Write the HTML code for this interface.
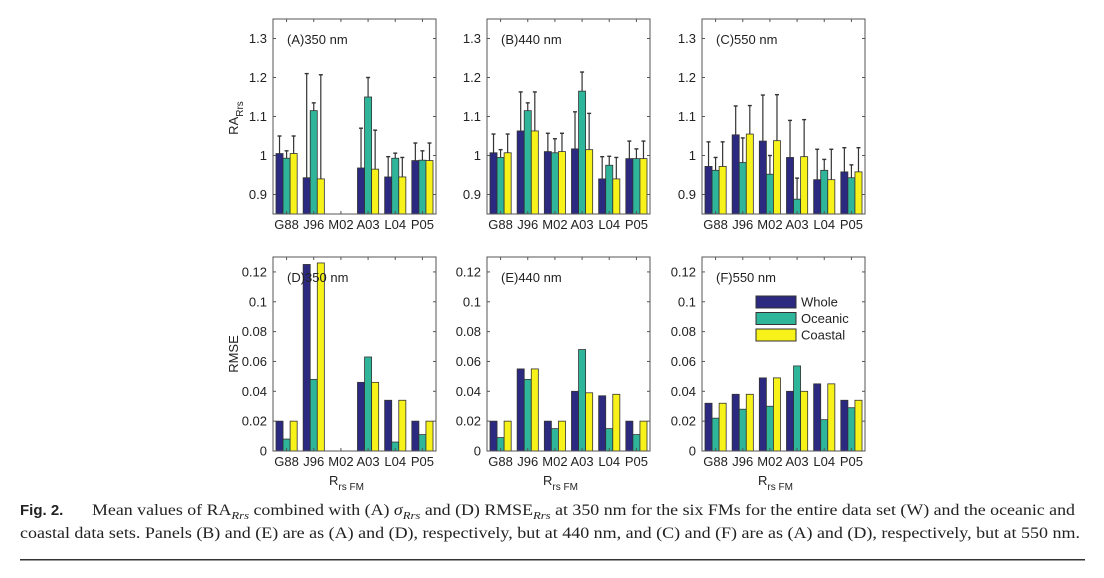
<!DOCTYPE html>
<html><head><meta charset="utf-8"><style>
html,body{margin:0;padding:0;background:#fff;width:1104px;height:578px;overflow:hidden}
svg{display:block}
.t{font-family:"Liberation Sans",Arial,sans-serif;font-size:13px;fill:#222}
.cap{font-family:"Liberation Serif",serif;font-size:15.5px;fill:#222}
</style></head><body>
<svg id="fig" width="1104" height="578" viewBox="0 0 1104 578" xmlns="http://www.w3.org/2000/svg">
<g id="plots"></g>
<g>
<text x="20" y="515" style="font-family:'Liberation Sans',sans-serif;font-weight:bold;font-size:15px;fill:#222">Fig. 2.</text>
<text class="cap" x="92" y="515" textLength="983" lengthAdjust="spacingAndGlyphs">Mean values of RA<tspan font-style="italic" font-size="11" dy="4">Rrs</tspan><tspan dy="-4"> combined with (A) </tspan><tspan font-style="italic">σ</tspan><tspan font-style="italic" font-size="11" dy="4">Rrs</tspan><tspan dy="-4"> and (D) RMSE</tspan><tspan font-style="italic" font-size="11" dy="4">Rrs</tspan><tspan dy="-4"> at 350 nm for the six FMs for the entire data set (W) and the oceanic and</tspan></text>
<text class="cap" x="20" y="538" textLength="1060" lengthAdjust="spacingAndGlyphs">coastal data sets. Panels (B) and (E) are as (A) and (D), respectively, but at 440 nm, and (C) and (F) are as (A) and (D), respectively, but at 550 nm.</text>
<rect x="20" y="559" width="1065" height="1.5" fill="#333"/>
</g>
</svg>
<script>
const categories = ["G88","J96","M02","A03","L04","P05"];
const seriesNames = ["Whole","Oceanic","Coastal"];
// RA means (top row)
const raA_W = [1.005,0.943,null,0.968,0.945,0.987];
const raA_O = [0.993,1.115,null,1.150,0.993,0.988];
const raA_C = [1.005,0.940,null,0.965,0.945,0.987];
const sdA_W = [0.045,0.267,null,0.102,0.052,0.045];
const sdA_O = [0.019,0.020,null,0.050,0.013,0.024];
const sdA_C = [0.045,0.267,null,0.100,0.050,0.045];
const raB_W = [1.007,1.063,1.010,1.017,0.940,0.992];
const raB_O = [0.995,1.115,1.007,1.165,0.975,0.992];
const raB_C = [1.007,1.063,1.010,1.015,0.940,0.992];
const sdB_W = [0.048,0.100,0.047,0.095,0.057,0.045];
const sdB_O = [0.020,0.020,0.036,0.049,0.023,0.025];
const sdB_C = [0.048,0.100,0.047,0.093,0.055,0.045];
const raC_W = [0.972,1.053,1.037,0.995,0.938,0.958];
const raC_O = [0.962,0.982,0.952,0.888,0.962,0.943];
const raC_C = [0.972,1.055,1.038,0.997,0.938,0.958];
const sdC_W = [0.063,0.074,0.118,0.095,0.078,0.062];
const sdC_O = [0.033,0.063,0.048,0.054,0.028,0.033];
const sdC_C = [0.063,0.073,0.118,0.095,0.078,0.062];
// RMSE (bottom row)
const rmD_W = [0.020,0.125,0,0.046,0.034,0.020];
const rmD_O = [0.008,0.048,0,0.063,0.006,0.011];
const rmD_C = [0.020,0.126,0,0.046,0.034,0.020];
const rmE_W = [0.020,0.055,0.020,0.040,0.037,0.020];
const rmE_O = [0.009,0.048,0.015,0.068,0.015,0.011];
const rmE_C = [0.020,0.055,0.020,0.039,0.038,0.020];
const rmF_W = [0.032,0.038,0.049,0.040,0.045,0.034];
const rmF_O = [0.022,0.028,0.030,0.057,0.021,0.029];
const rmF_C = [0.032,0.038,0.049,0.040,0.045,0.034];
const raTicks = [0.9,1.0,1.1,1.2,1.3];
const raTickLabels = ["0.9","1","1.1","1.2","1.3"];
const rmTicks = [0,0.02,0.04,0.06,0.08,0.1,0.12];
const rmTickLabels = ["0","0.02","0.04","0.06","0.08","0.1","0.12"];
const colors = ["#2b2a80","#2fb59a","#f6f21a"];
const NS = "http://www.w3.org/2000/svg";
const root = document.getElementById("plots");
function mk(tag, attrs, parent){const e=document.createElementNS(NS,tag);for(const k in attrs)e.setAttribute(k,attrs[k]);(parent||root).appendChild(e);return e;}

function panel(cfg){
  const g = mk("g",{});
  
  
  const L=cfg.x, T=cfg.y, W=163, H=cfg.h;
  const ys = v => T + H - (v - cfg.ymin)/(cfg.ymax - cfg.ymin)*H;
  const xs = c => L + (c + 0.5)/6*W;
  const catW = W/6, bw = catW*0.26;
  const base = ys(cfg.ymin);
  cfg.series.forEach((vals, s) => {
    vals.forEach((v, i) => {
      if (v === null) return;
      const cx = xs(i) + (s-1)*bw;
      const yt = ys(v);
      if (cfg.err) {
        const sd = cfg.err[s][i];
        const ye = ys(v + sd);
        const ln = mk("line",{x1:cx,x2:cx,y1:yt,y2:ye,stroke:"#333","stroke-width":1.2},g);
        
        
        const cap = mk("line",{x1:cx-2,x2:cx+2,y1:ye,y2:ye,stroke:"#333","stroke-width":1.4},g);
        
        
      }
      const r = mk("rect",{x:cx-bw/2,y:Math.min(yt,base),width:bw,height:Math.abs(base-yt),fill:colors[s],stroke:"#333","stroke-width":0.8},g);
      
      
    });
  });
  const fr = mk("rect",{x:L,y:T,width:W,height:H,fill:"none",stroke:"#555","stroke-width":1},g);
  
  
  cfg.ticks.forEach((tv, k) => {
    const y = ys(tv);
    mk("line",{x1:L,x2:L+3,y1:y,y2:y,stroke:"#555"},g);
    mk("line",{x1:L+W-3,x2:L+W,y1:y,y2:y,stroke:"#555"},g);
    const t = mk("text",{x:L-6,y:y+4.5,"text-anchor":"end",class:"t"},g);
    t.textContent = cfg.tickLabels[k];
    
    
  });
  categories.forEach((c, i) => {
    const x = xs(i);
    mk("line",{x1:x,x2:x,y1:T+H,y2:T+H-3,stroke:"#555"},g);
    mk("line",{x1:x,x2:x,y1:T,y2:T+3,stroke:"#555"},g);
    const t = mk("text",{x:x,y:T+H+15,"text-anchor":"middle",class:"t"},g);
    t.textContent = c;
    
    
  });
  const tt = mk("text",{x:L+14,y:T+25,class:"t"},g);
  tt.textContent = cfg.title;
  
  
  if (cfg.xlabel) {
    const xl = mk("text",{x:L+W/2-8,y:T+H+34,"text-anchor":"middle",class:"t","font-size":"15"},g);
    xl.innerHTML = 'R<tspan font-size="10" dy="5">rs FM</tspan>';
    
    
  }
}
const cols=[273,487,702];
panel({name:"panel-a",x:cols[0],y:19,h:195,ymin:0.85,ymax:1.35,ticks:raTicks,tickLabels:raTickLabels,title:"(A)350 nm",series:[raA_W,raA_O,raA_C],err:[sdA_W,sdA_O,sdA_C]});
panel({name:"panel-b",x:cols[1],y:19,h:195,ymin:0.85,ymax:1.35,ticks:raTicks,tickLabels:raTickLabels,title:"(B)440 nm",series:[raB_W,raB_O,raB_C],err:[sdB_W,sdB_O,sdB_C]});
panel({name:"panel-c",x:cols[2],y:19,h:195,ymin:0.85,ymax:1.35,ticks:raTicks,tickLabels:raTickLabels,title:"(C)550 nm",series:[raC_W,raC_O,raC_C],err:[sdC_W,sdC_O,sdC_C]});
panel({name:"panel-d",x:cols[0],y:257,h:194,ymin:0,ymax:0.13,ticks:rmTicks,tickLabels:rmTickLabels,title:"(D)350 nm",series:[rmD_W,rmD_O,rmD_C],xlabel:true});
panel({name:"panel-e",x:cols[1],y:257,h:194,ymin:0,ymax:0.13,ticks:rmTicks,tickLabels:rmTickLabels,title:"(E)440 nm",series:[rmE_W,rmE_O,rmE_C],xlabel:true});
panel({name:"panel-f",x:cols[2],y:257,h:194,ymin:0,ymax:0.13,ticks:rmTicks,tickLabels:rmTickLabels,title:"(F)550 nm",series:[rmF_W,rmF_O,rmF_C],xlabel:true});
const ya = mk("text",{x:0,y:0,class:"t","font-size":"15","text-anchor":"middle",transform:"translate(238,118) rotate(-90)"});
ya.innerHTML = 'RA<tspan font-size="10" dy="5">Rrs</tspan>';


const yb = mk("text",{x:0,y:0,class:"t","font-size":"14","text-anchor":"middle",transform:"translate(238,354) rotate(-90)"});
yb.textContent = "RMSE";


const lg = mk("g",{});


seriesNames.forEach((n, s) => {
  const y = 296 + s*16.5;
  const r = mk("rect",{x:756,y:y,width:40,height:12,fill:colors[s],stroke:"#333","stroke-width":1},lg);
  
  
  const t = mk("text",{x:801,y:y+10.5,class:"t","font-size":"12"},lg);
  t.textContent = n;
  
  
});
</script>
</body></html>
